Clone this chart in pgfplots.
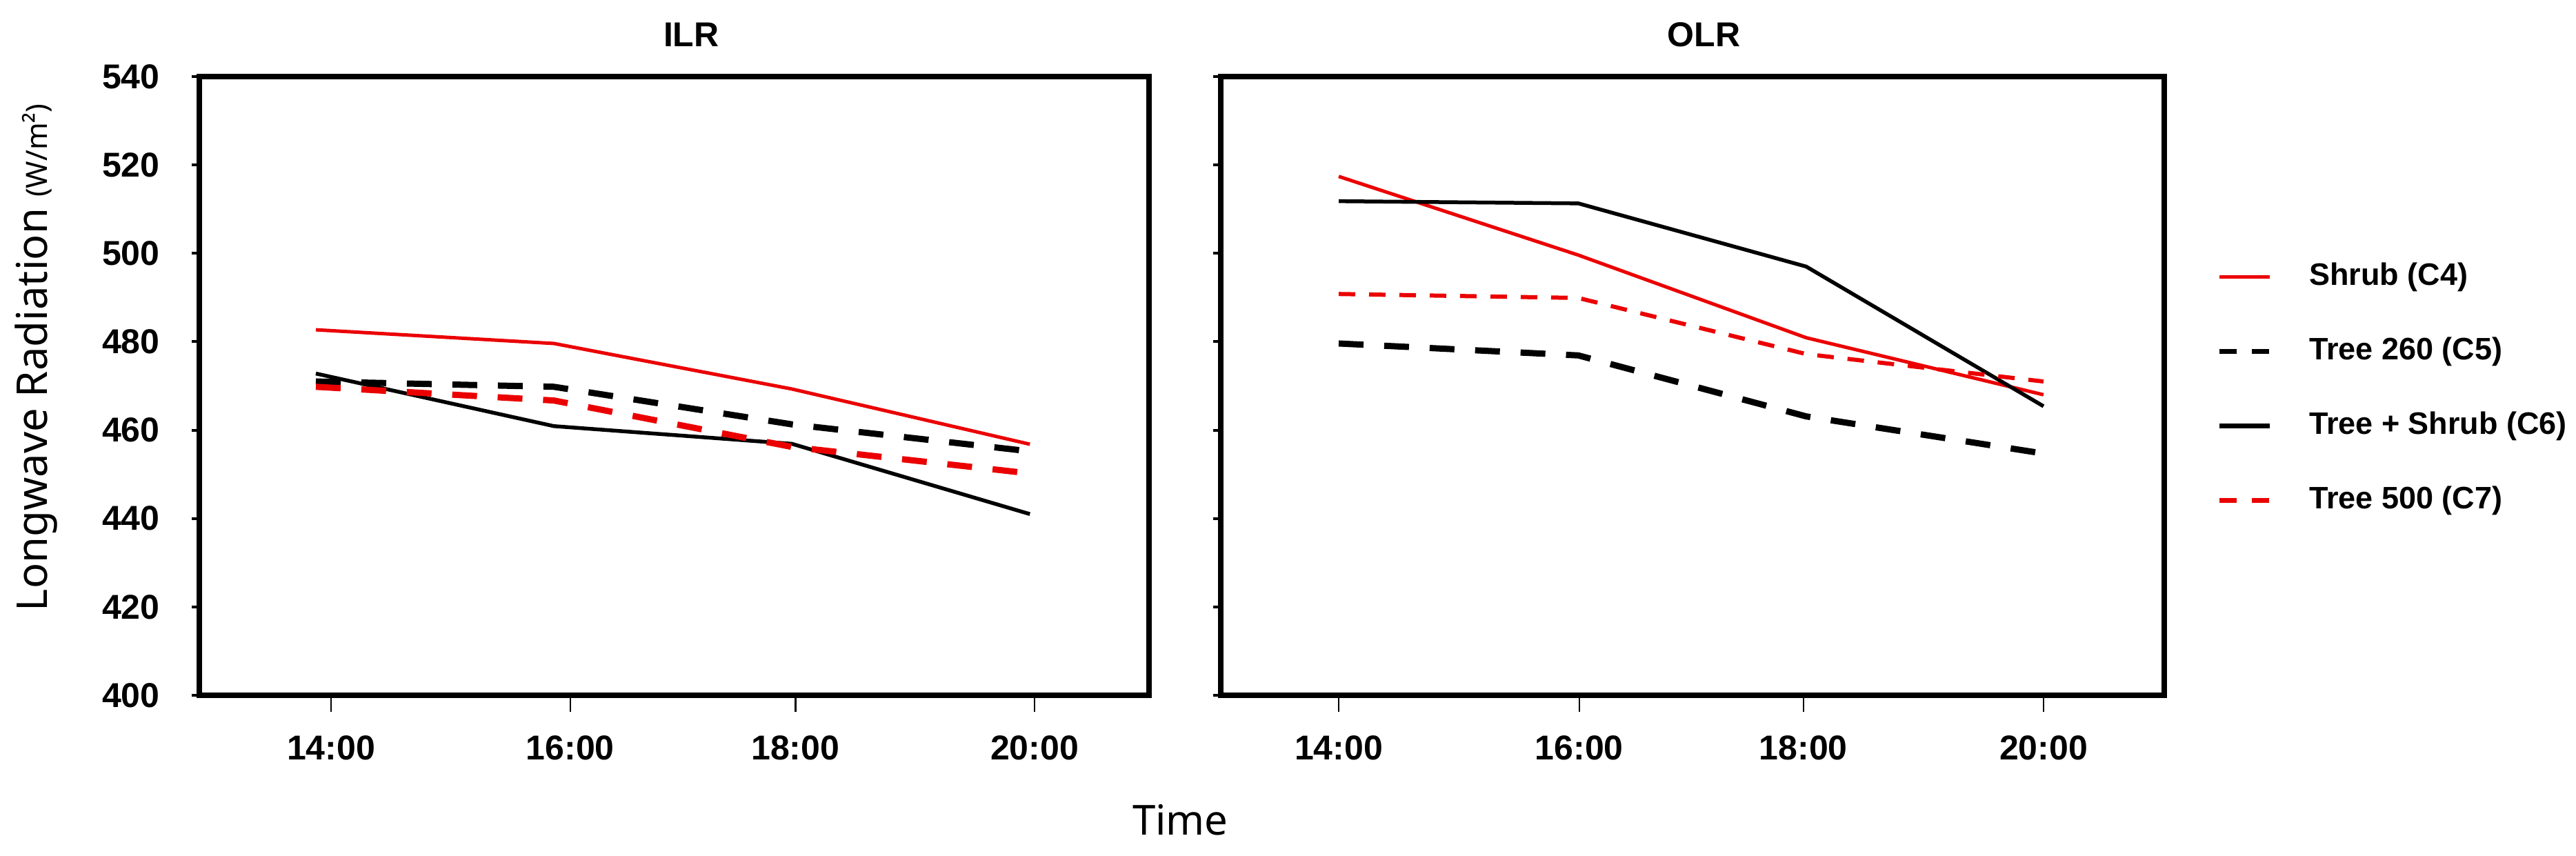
\documentclass[border=0pt]{standalone}
\usepackage{fontspec}
\setmainfont{Noto Sans}
\newfontfamily\bsans{Liberation Sans}
\usepackage{pgfplots}
\usepackage{pgfplotstable}
\pgfplotsset{compat=1.18}
\definecolor{lred}{RGB}{235,0,0}

% ILR panel: x = category position (14:00, 16:00, 18:00, 20:00)
\pgfplotstableread{
x      shrub  tA     ts     tB
-0.065 482.7  471.0  472.8  469.8
0.95   479.6  469.8  460.9  466.7
1.965  469.3  461.3  456.9  456.2
2.98   456.8  455.2  441.0  450.2
}\ilr
% OLR panel
\pgfplotstableread{
x      shrub  tA     ts     tB
0      517.4  479.6  511.8  490.8
1.02   499.6  476.9  511.3  489.9
1.99   480.9  463.1  497.0  477.2
3      468.0  454.7  465.4  471.0
}\olr

\newcommand{\tickfont}{\bsans\fontsize{10}{12}\selectfont\bfseries}
\newcommand{\legfont}{\bsans\fontsize{9}{11}\selectfont\bfseries}

\begin{document}
\begin{tikzpicture}
\path[use as bounding box] (0,0) rectangle (747pt,248.2pt);
\pgfplotsset{
  every axis title shift=0pt,
  panel/.style={
    scale only axis,
    height=179.4pt,
    ymin=400, ymax=540, ytick={400,420,...,540},
    axis line style={line width=1.7pt},
    tick align=outside, xtick pos=bottom, ytick pos=left,
    xticklabels={14:00,16:00,18:00,20:00},
    xtick style={line width=0.5pt, black, /pgfplots/major tick length=4.8pt},
    ytick style={line width=0.8pt, black, /pgfplots/major tick length=2.2pt},
    ticklabel style={font=\tickfont},
    xticklabel style={yshift=-3.9pt},
    yticklabel style={xshift=-3.7pt},
    /pgf/number format/assume math mode=true,
    title style={font=\tickfont},
  }
}
\begin{axis}[panel,
  at={(57.8pt,46.6pt)}, anchor=south west,
  width=275.4pt,
  xmin=-0.562, xmax=3.488,
  xtick={0,1.02,1.98,3},
  title={ILR},
  title style={at={(axis description cs:0.518,1.068)}, anchor=center},
  ylabel={Longwave Radiation {\fontsize{8.5}{10}\selectfont (W/m²)}},
  ylabel style={at={(axis description cs:-0.172,0.546)}, anchor=center, font=\fontsize{12.3}{14}\selectfont},
  xlabel={Time},
  xlabel style={at={(axis description cs:1.033,-0.201)}, anchor=center, font=\fontsize{12}{14}\selectfont},
]
\addplot[lred, line width=1pt] table[x=x, y=shrub] {\ilr};
\addplot[black, line width=1.8pt, dash pattern=on 7.2pt off 6pt] table[x=x, y=tA] {\ilr};
\addplot[black, line width=1.1pt] table[x=x, y=ts] {\ilr};
\addplot[lred, line width=1.8pt, dash pattern=on 7.2pt off 6pt] table[x=x, y=tB] {\ilr};
\end{axis}

\begin{axis}[panel,
  at={(354pt,46.6pt)}, anchor=south west,
  width=273.6pt,
  xmin=-0.502, xmax=3.514,
  xtick={0,1.024,1.978,3},
  yticklabels={},
  title={OLR},
  title style={at={(axis description cs:0.512,1.068)}, anchor=center},
  legend style={draw=none, fill=none, at={(1.056,0.701)}, anchor=north west,
    inner sep=0pt, outer sep=0pt, row sep=12.6pt, font=\legfont,
    nodes={inner sep=0pt, text height=6.8pt, text depth=2.2pt},
    /tikz/every odd column/.append style={column sep=10.8pt}},
  legend cell align=left,
  legend image code/.code={\draw[#1] (0pt,0pt) -- (14.5pt,0pt);},
]
\addlegendimage{lred, line width=1pt}
\addlegendentry{Shrub (C4)}
\addlegendimage{black, line width=1.3pt, dash pattern=on 5pt off 4.4pt}
\addlegendentry{Tree 260 (C5)}
\addlegendimage{black, line width=1.4pt}
\addlegendentry{Tree + Shrub (C6)}
\addlegendimage{lred, line width=1.3pt, dash pattern=on 5pt off 4.4pt}
\addlegendentry{Tree 500 (C7)}
\addplot[lred, line width=1pt, forget plot] table[x=x, y=shrub] {\olr};
\addplot[black, line width=1.8pt, dash pattern=on 7.2pt off 6pt, forget plot] table[x=x, y=tA] {\olr};
\addplot[black, line width=1.1pt, forget plot] table[x=x, y=ts] {\olr};
\addplot[lred, line width=1.2pt, dash pattern=on 4.8pt off 4pt, forget plot] table[x=x, y=tB] {\olr};
\end{axis}
\end{tikzpicture}
\end{document}
